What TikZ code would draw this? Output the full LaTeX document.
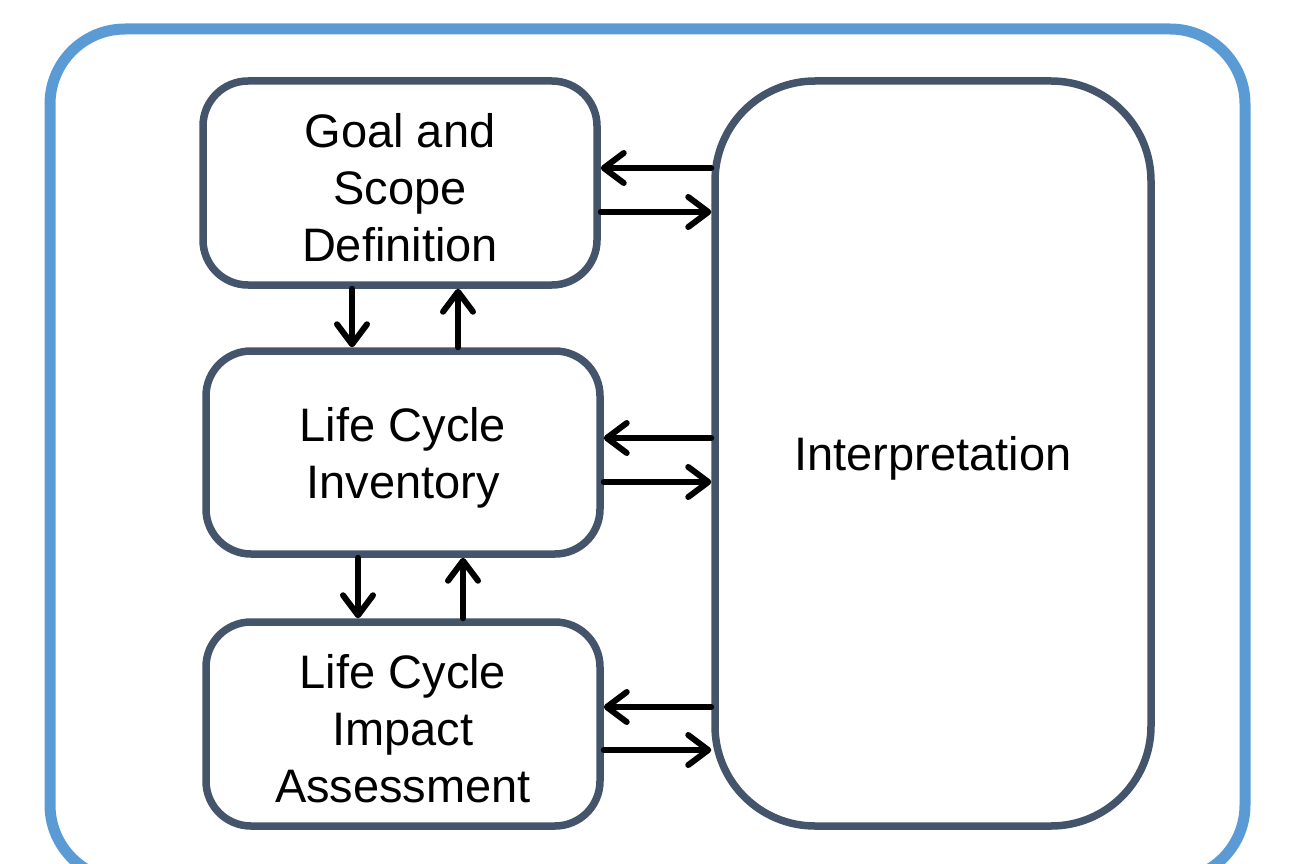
\documentclass[tikz,border=0pt]{standalone}
\usepackage{fontspec}
\setmainfont{Liberation Sans}
\usetikzlibrary{arrows.meta}
\definecolor{outerblue}{HTML}{5B9BD5}
\definecolor{boxslate}{HTML}{44546A}
\begin{document}
\begin{tikzpicture}[x=1pt,y=-1pt,
  stagebox/.style={draw=boxslate, line width=7.5pt, rounded corners=45pt, outer sep=3.75pt,
    inner sep=0pt, fill=white},
  stagetext/.style={label={[align=center, font=\fontsize{47}{57}\selectfont, yshift=-5pt]center:#1}},
  flow/.style={line width=6pt, line cap=round,
    -{Straight Barb[length=20pt,width=30pt,line cap=round,line join=round]}}
  ]
  \useasboundingbox (0,0) rectangle (1290,864);
  \clip (0,0) rectangle (1290,864);
  \draw[outerblue, line width=11pt, rounded corners=75pt] (50,29) rectangle (1245,880);

  \node[stagebox, minimum width=394pt, minimum height=204pt, stagetext={Goal and\\Scope\\Definition}] (goal) at (400,183) {};
  \node[stagebox, minimum width=394pt, minimum height=203pt, stagetext={Life Cycle\\Inventory}] (lci) at (403,452.5) {};
  \node[stagebox, minimum width=394pt, minimum height=204pt, stagetext={Life Cycle\\Impact\\Assessment}] (lcia) at (403,724) {};
  \node[stagebox, rounded corners=100pt, minimum width=436pt, minimum height=745pt, stagetext={Interpretation}] (interp) at (933,453.5) {};

  % horizontal arrows
  \draw[flow] (interp.west |- 0,168) -- (goal.east |- 0,168);
  \draw[flow] (goal.east |- 0,212) -- (interp.west |- 0,212);
  \draw[flow] (interp.west |- 0,438) -- (lci.east |- 0,438);
  \draw[flow] (lci.east |- 0,482) -- (interp.west |- 0,482);
  \draw[flow] (interp.west |- 0,707) -- (lcia.east |- 0,707);
  \draw[flow] (lcia.east |- 0,750) -- (interp.west |- 0,750);

  % vertical arrows
  \draw[flow] (goal.south -| 352,0) -- (lci.north -| 352,0);
  \draw[flow] (lci.north -| 458,0) -- (goal.south -| 458,0);
  \draw[flow] (lci.south -| 358,0) -- (lcia.north -| 358,0);
  \draw[flow] (lcia.north -| 463,0) -- (lci.south -| 463,0);
\end{tikzpicture}
\end{document}
